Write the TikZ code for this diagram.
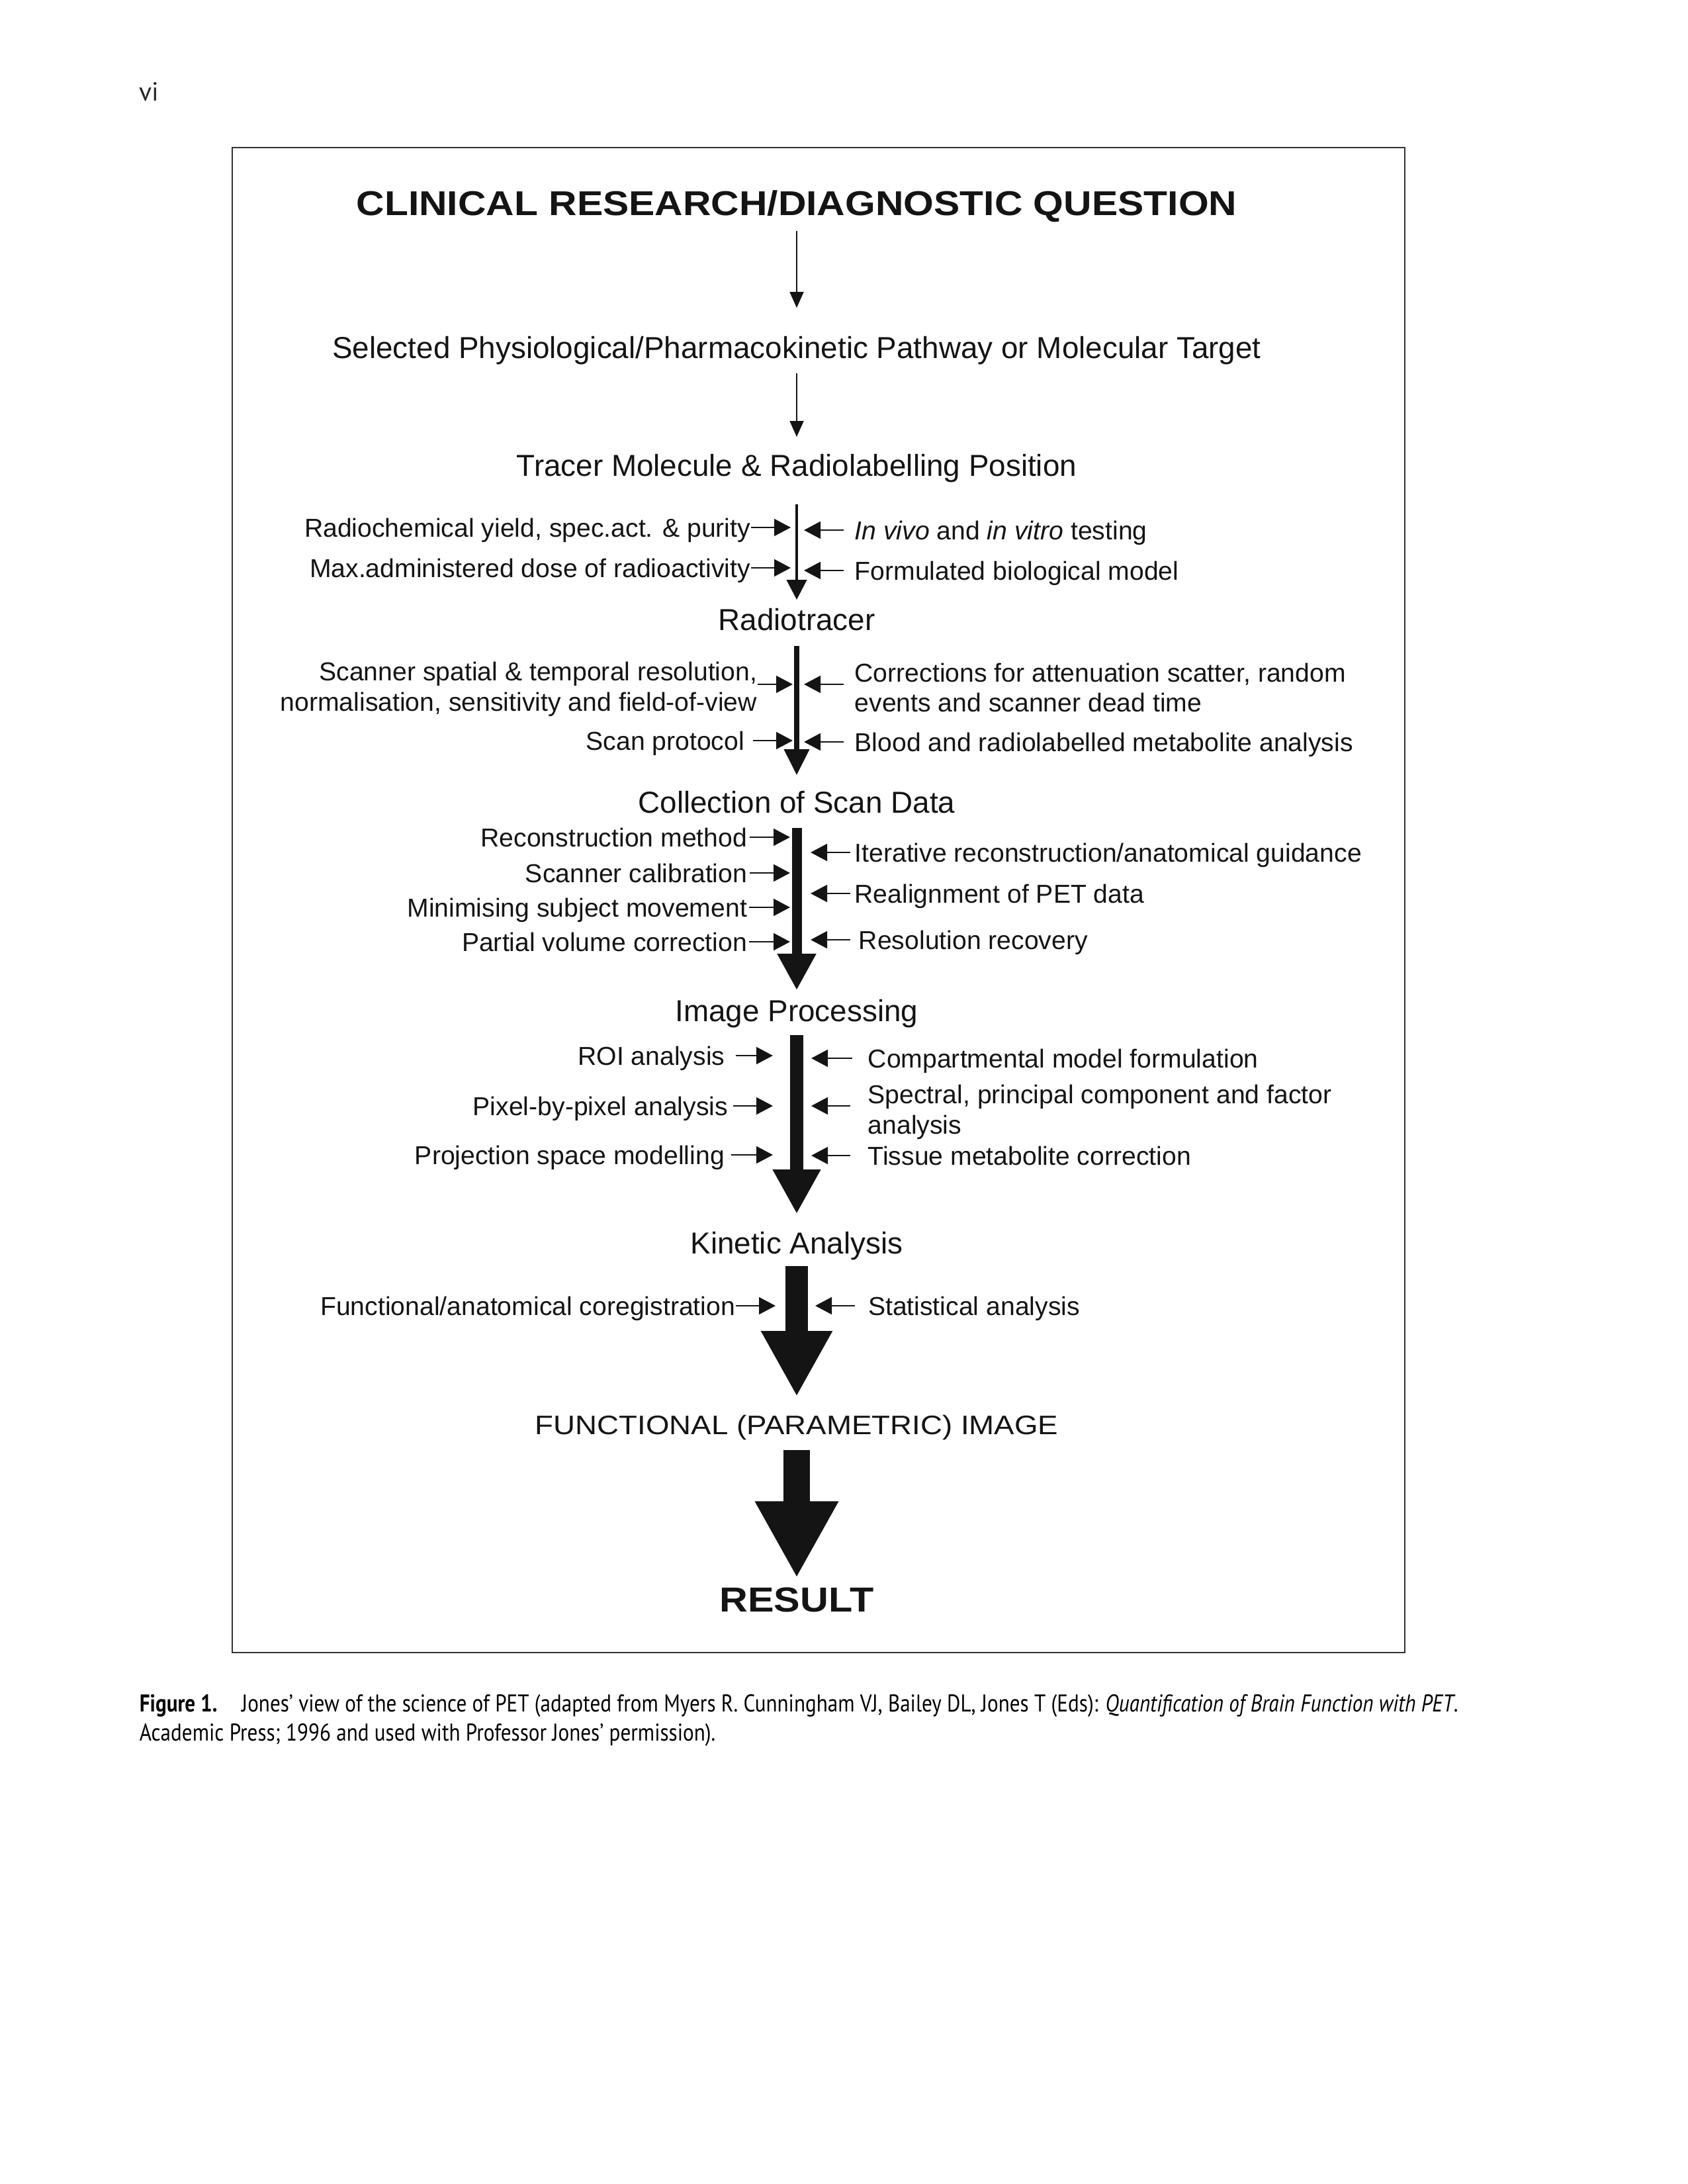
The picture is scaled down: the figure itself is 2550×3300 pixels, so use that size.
\documentclass[tikz,border=0pt]{standalone}
\usepackage{fontspec}
\setmainfont{Liberation Sans}
\newfontfamily\widefont[FakeStretch=1.13]{Liberation Sans}
\newfontfamily\capfont[FakeStretch=0.85]{PT Sans}
\newfontfamily\folfont{PT Sans}
\usepackage{tikz}
\usetikzlibrary{arrows.meta}
\definecolor{ink}{RGB}{20,20,20}
\definecolor{framegray}{RGB}{50,50,50}
\newcommand\headfont{\widefont\bfseries\fontsize{12.5}{15}\selectfont}
\newcommand\stagefont{\fontsize{11}{13}\selectfont}
\newcommand\sidefont{\fontsize{9.4}{11}\selectfont}

\begin{document}
\begin{tikzpicture}[x=0.24pt, y=-0.24pt,
  stage/.style={font=\stagefont, inner sep=0pt, text height=7.88pt, text depth=0pt, text=ink},
  sideL/.style={font=\sidefont, anchor=east, inner sep=0pt, text height=6.73pt, text depth=0pt, text=ink},
  sideR/.style={font=\sidefont, anchor=west, inner sep=0pt, text height=6.73pt, text depth=0pt, text=ink},
  pairL/.style={font=\sidefont, anchor=east, inner sep=0pt, align=right, text=ink},
  pairR/.style={font=\sidefont, anchor=west, inner sep=0pt, align=left, text=ink},
  feed/.style={-{Triangle[length=6pt, width=6.2pt]}, line width=0.6pt, ink},
  stem/.style n args={3}{-{Triangle[length=#2, width=#3]}, line width=#1, ink}
]
\useasboundingbox (0,0) rectangle (2550,3300);
\node[anchor=base west, inner sep=0pt, font=\folfont\fontsize{9.5}{11}\selectfont, text=black!85] (folio) at (210,152) {vi};
\draw[framegray, line width=0.7pt] (351,223) rectangle (2123,2497);

% main chain
\node[stage, font=\headfont, text height=8.95pt] (question) at (1204,307) {CLINICAL RESEARCH/DIAGNOSTIC QUESTION};
\node[stage] (pathway) at (1204,525) {Selected Physiological/Pharmacokinetic Pathway or Molecular Target};
\node[stage] (tracer) at (1204,703) {Tracer Molecule \& Radiolabelling Position};
\node[stage] (radio) at (1204,936) {Radiotracer};
\node[stage] (scandata) at (1204,1212) {Collection of Scan Data};
\node[stage] (imgproc) at (1204,1527) {Image Processing};
\node[stage] (kinetic) at (1204,1878) {Kinetic Analysis};
\node[stage, font=\widefont\fontsize{9.7}{12}\selectfont, text height=6.95pt] (paramimg) at (1204,2153) {FUNCTIONAL (PARAMETRIC) IMAGE};
\node[stage, font=\widefont\bfseries\fontsize{12.6}{15}\selectfont, text height=9.02pt] (result) at (1204,2417) {RESULT};

\draw[stem={0.6pt}{5.8pt}{5pt}, shorten <=5.36pt, shorten >=10.22pt] (question) -- (pathway);
\draw[stem={0.6pt}{5.8pt}{5pt}, shorten <=5.18pt, shorten >=6.14pt] (pathway) -- (tracer);
\draw[stem={0.96pt}{7.2pt}{7.2pt}, shorten <=9.98pt, shorten >=3.02pt] (tracer) -- (radio);
\draw[stem={1.7pt}{9.4pt}{8.9pt}, shorten <=5.42pt, shorten >=5.66pt] (radio) -- (scandata);
\draw[stem={3.6pt}{13.2pt}{13.2pt}, shorten <=5.18pt, shorten >=3.26pt] (scandata) -- (imgproc);
\draw[stem={4.8pt}{16.1pt}{16.3pt}, shorten <=4.7pt, shorten >=6.38pt] (imgproc) -- (kinetic);
\draw[stem={8.2pt}{23.8pt}{24.2pt}, shorten <=4.2pt, shorten >=6.6pt] (kinetic) -- (paramimg);
\draw[stem={9.6pt}{27.8pt}{28.3pt}, shorten <=5.4pt, shorten >=3.17pt] (paramimg) -- (result);

% tracer -> radiotracer
\coordinate (tipBL) at (1195,0);
\coordinate (tipBR) at (1215,0);
\node[sideL] (yield) at (1135,797) {Radiochemical yield, spec.act. \& purity};
\node[sideL] (dose) at (1135,858) {Max.administered dose of radioactivity};
\node[sideR, inner xsep=3.8pt] (vivo) at (1275,801) {\textit{In vivo} and \textit{in vitro} testing};
\node[sideR, inner xsep=3.8pt] (biomodel) at (1275,862) {Formulated biological model};
\draw[feed] (yield.east) -- (yield.east -| tipBL);
\draw[feed] (dose.east) -- (dose.east -| tipBL);
\draw[feed] (vivo.west) -- (vivo.west -| tipBR);
\draw[feed] (biomodel.west) -- (biomodel.west -| tipBR);

% radiotracer -> scan data
\coordinate (tipCL) at (1198,1034);
\coordinate (tipCR) at (1215,1034);
\node[pairL] (scanner) at (1145,1041) {Scanner spatial \& temporal resolution,\\normalisation, sensitivity and field-of-view};
\node[pairR, inner xsep=3.8pt] (corrections) at (1275,1039) {Corrections for attenuation scatter, random\\events and scanner dead time};
\node[sideL, inner xsep=2.9pt] (protocol) at (1138,1119) {Scan protocol};
\node[sideR, inner xsep=3.8pt] (blood) at (1275,1121) {Blood and radiolabelled metabolite analysis};
\draw[feed] (scanner.east |- tipCL) -- (tipCL);
\draw[feed] (corrections.west |- tipCR) -- (tipCR);
\draw[feed] (protocol.east) -- (protocol.east -| tipCL);
\draw[feed] (blood.west) -- (blood.west -| tipCR);

% scan data -> image processing
\coordinate (tipDL) at (1194,0);
\coordinate (tipDR) at (1225,0);
\node[sideL, inner xsep=0.7pt] (recon) at (1133,1265) {Reconstruction method};
\node[sideL, inner xsep=0.7pt] (calib) at (1133,1319) {Scanner calibration};
\node[sideL, inner xsep=0.5pt] (movement) at (1132,1371) {Minimising subject movement};
\node[sideL, inner xsep=0.5pt] (pvc) at (1132,1423) {Partial volume correction};
\node[sideR, inner xsep=1.4pt] (iterative) at (1285,1288) {Iterative reconstruction/anatomical guidance};
\node[sideR, inner xsep=1.4pt] (realign) at (1285,1350) {Realignment of PET data};
\node[sideR, inner xsep=2.9pt] (recovery) at (1285,1420) {Resolution recovery};
\foreach \n in {recon, calib, movement, pvc}
  \draw[feed] (\n.east) -- (\n.east -| tipDL);
\foreach \n in {iterative, realign, recovery}
  \draw[feed] (\n.west) -- (\n.west -| tipDR);

% image processing -> kinetic analysis
\coordinate (tipEL) at (1168,0);
\coordinate (tipER) at (1226,1671);
\node[sideL, inner xsep=3.8pt] (roi) at (1112,1595) {ROI analysis};
\node[sideL, inner xsep=1.7pt] (pixel) at (1108,1671) {Pixel-by-pixel analysis};
\node[sideL, inner xsep=2.2pt] (projection) at (1105,1745) {Projection space modelling};
\node[sideR, inner xsep=5.5pt] (compartment) at (1288,1599) {Compartmental model formulation};
\node[pairR, inner xsep=6.2pt] (spectral) at (1285,1680) {Spectral, principal component and factor\\analysis};
\node[sideR, inner xsep=6.2pt] (tissue) at (1285,1746) {Tissue metabolite correction};
\foreach \n in {roi, pixel, projection}
  \draw[feed] (\n.east) -- (\n.east -| tipEL);
\draw[feed] (compartment.west) -- (compartment.west -| tipER);
\draw[feed] (spectral.west |- tipER) -- (tipER);
\draw[feed] (tissue.west) -- (tissue.west -| tipER);

% kinetic analysis -> parametric image
\coordinate (tipFL) at (1172,0);
\coordinate (tipFR) at (1232,0);
\node[sideL] (coreg) at (1112,1973) {Functional/anatomical coregistration};
\node[sideR, inner xsep=4.6pt] (stats) at (1292,1973) {Statistical analysis};
\draw[feed] (coreg.east) -- (coreg.east -| tipFL);
\draw[feed] (stats.west) -- (stats.west -| tipFR);

% caption
\node[anchor=base west, inner sep=0pt, font=\capfont\fontsize{8.8}{10.2}\selectfont] (caption1) at (210,2586) {\textbf{Figure 1.}\hspace{1em}Jones’ view of the science of PET (adapted from Myers R. Cunningham VJ, Bailey DL, Jones T (Eds): \textit{Quantification of Brain Function with PET}.};
\node[anchor=base west, inner sep=0pt, font=\capfont\fontsize{8.8}{10.2}\selectfont] (caption2) at (210,2630) {Academic Press; 1996 and used with Professor Jones’ permission).};
\end{tikzpicture}
\end{document}
